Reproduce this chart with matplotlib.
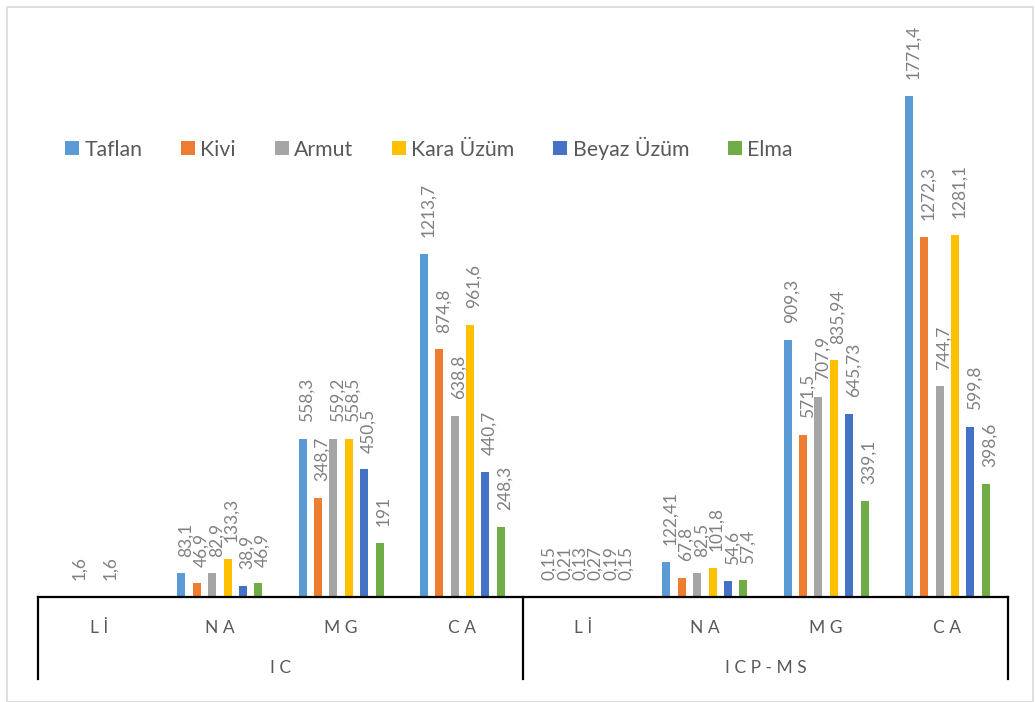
import numpy as np
import matplotlib
matplotlib.use("Agg")
import matplotlib.pyplot as plt
from matplotlib.patches import Rectangle

plt.rcParams['font.family'] = ['Lato', 'DejaVu Sans']

# Element categories and measurement methods
categories = ["L İ", "N A", "M G", "C A", "L İ", "N A", "M G", "C A"]
groups = ["I C", "I C P - M S"]

series_names = ["Taflan", "Kivi", "Armut", "Kara Üzüm", "Beyaz Üzüm", "Elma"]
colors = ["#5B9BD5", "#ED7D31", "#A5A5A5", "#FFC000", "#4472C4", "#70AD47"]

nan = np.nan
taflan     = [nan, 83.1, 558.3, 1213.7, 0.15, 122.41, 909.3, 1771.4]
kivi       = [1.6, 46.9, 348.7, 874.8, 0.21, 67.8, 571.5, 1272.3]
armut      = [nan, 82.9, 559.2, 638.8, 0.13, 82.5, 707.9, 744.7]
kara_uzum  = [1.6, 133.3, 558.5, 961.6, 0.27, 101.8, 835.94, 1281.1]
beyaz_uzum = [nan, 38.9, 450.5, 440.7, 0.19, 54.6, 645.73, 599.8]
elma       = [nan, 46.9, 191, 248.3, 0.15, 57.4, 339.1, 398.6]

series = [taflan, kivi, armut, kara_uzum, beyaz_uzum, elma]

W, H = 1035, 702
fig = plt.figure(figsize=(W / 100, H / 100), dpi=100)

# plot area in pixels
left_px, right_px = 38, 1008
base_px, top_px = 596.7, 31.3
ax = fig.add_axes([left_px / W, 1 - base_px / H, (right_px - left_px) / W, (base_px - top_px) / H])
ax.set_xlim(0, len(categories))
ax.set_ylim(0, 2000)
ax.axis("off")

slot = 15.4 / 121.25
bar_w = 8.0 / 121.25
x = np.arange(len(categories)) + 0.5

def fmt(v):
    s = ("%g" % v).replace(".", ",")
    return s

for i, (name, vals, c) in enumerate(zip(series_names, series, colors)):
    xs = x + (i - 2.5) * slot
    vals = np.array(vals, dtype=float)
    ax.bar(xs, np.nan_to_num(vals), width=bar_w, color=c, label=name, zorder=2)
    for xi, v in zip(xs, vals):
        if np.isnan(v):
            continue
        ax.annotate(fmt(v), (xi, v), xytext=(3, 12), textcoords="offset points",
                    rotation=90, ha="center", va="bottom", fontsize=12.5,
                    color="#808080", annotation_clip=False)

# category axis with two levels
trans = ax.get_xaxis_transform()
line_kw = dict(color="black", lw=1.6, clip_on=False, solid_capstyle="projecting")
ax.plot([0, len(categories)], [0, 0], transform=ax.transData, **line_kw)
bottom_y = -(678.7 - base_px) / (base_px - top_px)
for xv in [0, 4, 8]:
    ax.plot([xv, xv], [0, bottom_y], transform=trans, **line_kw)

cat_y = -(628 - base_px) / (base_px - top_px)
grp_y = -(668 - base_px) / (base_px - top_px)
for xi, lab in zip(x, categories):
    ax.text(xi, cat_y, lab, transform=trans, ha="center", va="center",
            fontsize=12.5, color="#595959")
for gi, lab in enumerate(groups):
    ax.text(gi * 4 + 2, grp_y, lab, transform=trans, ha="center", va="center",
            fontsize=12.5, color="#595959")

leg = ax.legend(loc="center left", bbox_to_anchor=(65 / W, 1 - 148 / H),
                bbox_transform=fig.transFigure, ncol=6, frameon=False,
                fontsize=15.3, handlelength=0.66, handleheight=0.66,
                handletextpad=0.25, columnspacing=1.82, borderpad=0,
                borderaxespad=0, labelcolor="#595959")

# outer chart border
fig.patches.append(Rectangle((7 / W, 0), (1033 - 7) / W, 1 - 7 / H,
                             transform=fig.transFigure, fill=False,
                             edgecolor="#d9d9d9", lw=1.2))

fig.savefig("out.png", dpi=100)
